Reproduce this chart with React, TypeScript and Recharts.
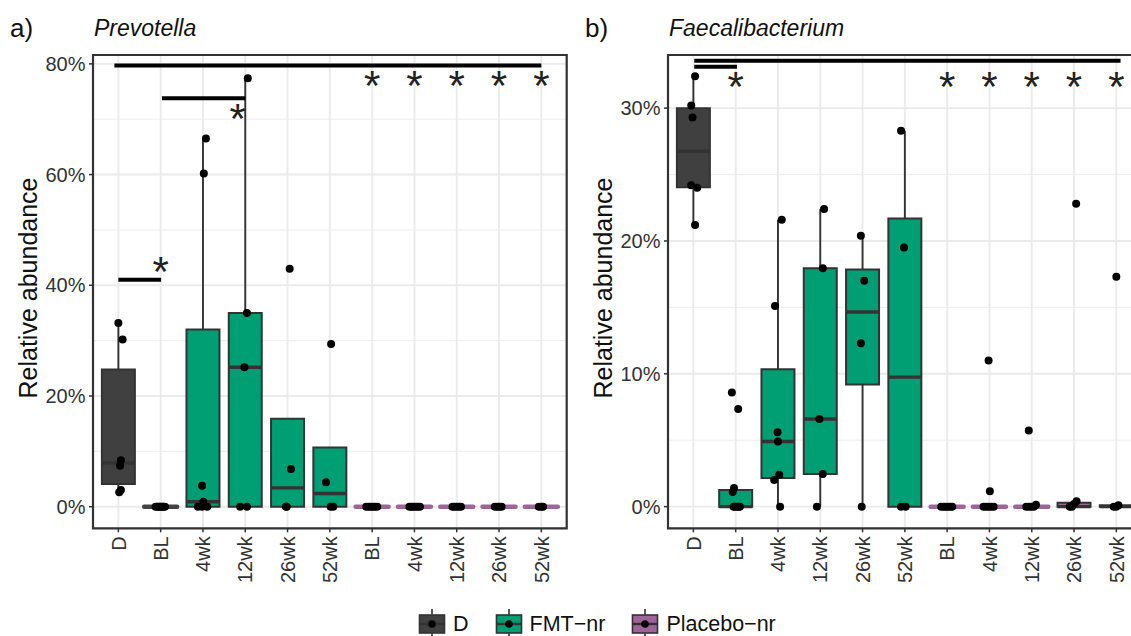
import React from 'react';
import {
  CartesianGrid,
  ComposedChart,
  ReferenceArea,
  ReferenceLine,
  Scatter,
  XAxis,
  YAxis,
} from 'recharts';

const CATEGORIES = ['D', 'BL', '4wk', '12wk', '26wk', '52wk', 'BL', '4wk', '12wk', '26wk', '52wk'];
const GROUPS = ['D', 'FMT−nr', 'FMT−nr', 'FMT−nr', 'FMT−nr', 'FMT−nr',
  'Placebo−nr', 'Placebo−nr', 'Placebo−nr', 'Placebo−nr', 'Placebo−nr'];
const LEGEND_GROUPS = ['D', 'FMT−nr', 'Placebo−nr'];

// Prevotella (%), one entry per category
const PREV_Q1 = [4.1, 0, 0, 0, 0, 0, 0, 0, 0, 0, 0];
const PREV_MEDIAN = [7.9, 0, 0.9, 25.2, 3.4, 2.4, 0, 0, 0, 0, 0];
const PREV_Q3 = [24.8, 0, 32.0, 35.0, 15.9, 10.7, 0, 0, 0, 0, 0];
const PREV_LOW = [2.6, 0, 0, 0, 0, 0, 0, 0, 0, 0, 0];
const PREV_HIGH = [33.2, 0, 66.5, 77.4, 15.9, 10.7, 0, 0, 0, 0, 0];
const PREV_POINTS = [
  [33.2, 30.2, 8.4, 7.4, 3.0, 2.6],
  [0, 0, 0, 0, 0, 0, 0, 0],
  [66.5, 60.2, 3.8, 0.9, 0, 0, 0],
  [77.4, 35.0, 25.2, 0, 0],
  [43.0, 6.8, 0, 0],
  [29.4, 4.4, 0, 0],
  [0, 0, 0, 0, 0, 0],
  [0, 0, 0, 0, 0, 0],
  [0, 0, 0, 0, 0],
  [0, 0, 0, 0],
  [0, 0, 0],
];
const PREV_JITTER = [
  [0, 0.1, 0.06, 0.04, 0.06, 0.02],
  [-0.12, -0.08, -0.05, -0.02, 0.01, 0.04, 0.07, 0.1],
  [0.07, 0.02, -0.02, 0.01, -0.12, -0.02, 0.1],
  [0.06, 0.04, -0.02, -0.12, 0.04],
  [0.05, 0.08, -0.04, -0.02],
  [0.03, -0.09, 0.02, 0.08],
  [-0.14, -0.08, -0.03, 0.02, 0.07, 0.12],
  [-0.12, -0.07, -0.02, 0.03, 0.08, 0.13],
  [-0.1, -0.05, 0, 0.05, 0.1],
  [-0.1, -0.04, 0.01, 0.06],
  [-0.06, 0, 0.04],
];
const PREV_SIG_BARS = [
  { from: 0.905, to: 11, y: 79.7 },
  { from: 2.03, to: 4.0, y: 73.8 },
  { from: 1, to: 2.01, y: 41.0 },
];
const PREV_STARS = [
  { x: 2, y: 43.5 },
  { x: 3.82, y: 71.1 },
  { x: 7, y: 77.1 },
  { x: 8, y: 77.1 },
  { x: 9, y: 77.1 },
  { x: 10, y: 77.1 },
  { x: 11, y: 77.1 },
];

// Faecalibacterium (%)
const FAEC_Q1 = [24.05, 0, 2.15, 2.46, 9.2, 0, 0, 0, 0, 0, 0];
const FAEC_MEDIAN = [26.75, 0, 4.9, 6.6, 14.65, 9.75, 0, 0, 0, 0, 0];
const FAEC_Q3 = [30.0, 1.25, 10.35, 17.95, 17.85, 21.7, 0, 0, 0, 0.3, 0.1];
const FAEC_LOW = [21.2, 0, 0, 0, 0, 0, 0, 0, 0, 0, 0];
const FAEC_HIGH = [32.4, 1.25, 21.6, 22.4, 20.4, 28.3, 0, 0, 0, 0.4, 0.1];
const FAEC_POINTS = [
  [32.4, 30.2, 29.3, 24.2, 24.0, 21.2],
  [8.6, 7.35, 1.4, 1.1, 0, 0, 0, 0, 0],
  [21.6, 15.1, 5.6, 4.9, 2.4, 2.0, 0],
  [22.4, 17.95, 6.6, 2.46, 0],
  [20.4, 17.0, 12.3, 0],
  [28.3, 19.5, 0, 0],
  [0, 0, 0, 0, 0, 0],
  [11.0, 1.15, 0, 0, 0, 0, 0],
  [5.74, 0.15, 0, 0, 0, 0],
  [22.8, 0.4, 0.2, 0, 0],
  [17.3, 0.1, 0, 0],
];
const FAEC_JITTER = [
  [0.04, -0.05, -0.02, -0.05, 0.09, 0.04],
  [-0.09, 0.06, -0.04, -0.07, -0.05, -0.02, 0.03, 0.07, 0.1],
  [0.09, -0.07, -0.01, 0, 0.03, -0.09, 0.05],
  [0.09, 0.06, -0.02, 0.06, -0.08],
  [-0.04, 0.04, -0.04, -0.02],
  [-0.09, -0.02, -0.09, 0.02],
  [-0.14, -0.08, -0.03, 0.02, 0.07, 0.12],
  [-0.02, 0.01, -0.14, -0.08, -0.02, 0.04, 0.1],
  [-0.07, 0.1, -0.13, -0.07, -0.01, 0.05],
  [0.05, 0.06, 0, -0.1, -0.05],
  [0, 0.05, -0.06, 0],
];
const FAEC_SIG_BARS = [
  { from: 1.02, to: 11.1, y: 33.57 },
  { from: 1.02, to: 2.03, y: 33.12 },
];
const FAEC_STARS = [
  { x: 2, y: 32.0 },
  { x: 7, y: 32.0 },
  { x: 8, y: 32.0 },
  { x: 9, y: 32.0 },
  { x: 10, y: 32.0 },
  { x: 11, y: 32.0 },
];

const FILLS: Record<string, string> = {
  'D': '#404040',
  'FMT−nr': '#009e73',
  'Placebo−nr': '#a0639a',
};
const INK = '#333333';
const FONT = '"Liberation Sans", Arial, Helvetica, sans-serif';
const HALF_BOX = 0.39;
const X_DOMAIN: [number, number] = [0.4, 11.6];
const X_TICKS = CATEGORIES.map((_, i) => i + 1);

interface BoxStats {
  q1: number[];
  median: number[];
  q3: number[];
  low: number[];
  high: number[];
}

interface PanelProps {
  left: number;
  letter: string;
  taxon: string;
  stats: BoxStats;
  points: number[][];
  jitter: number[][];
  yDomain: [number, number];
  yTicks: number[];
  yMinor: number[];
  sigBars: { from: number; to: number; y: number }[];
  stars: { x: number; y: number }[];
}

function CategoryTick({ x, y, payload }: any) {
  return (
    <text
      transform={`translate(${x},${y}) rotate(-90)`}
      textAnchor="end"
      dy="0.36em"
      fontSize={20}
      fontFamily={FONT}
      fill="#333"
    >
      {CATEGORIES[payload.value - 1]}
    </text>
  );
}

const dotShape = (props: any) => (
  <circle cx={props.cx} cy={props.cy} r={4} fill="#000" />
);

const starShape = (props: any) => (
  <text
    x={props.cx}
    y={props.cy}
    dy="0.47em"
    textAnchor="middle"
    fontSize={42}
    fontFamily={FONT}
    fill="#222"
  >
    *
  </text>
);

function Panel({
  left, letter, taxon, stats, points, jitter, yDomain, yTicks, yMinor, sigBars, stars,
}: PanelProps) {
  const pointData = points.flatMap((vals, i) =>
    vals.map((v, j) => ({ x: i + 1 + jitter[i][j], y: v })),
  );

  return (
    <div style={{ position: 'absolute', left, top: 0, width: 590, height: 636 }}>
      <div style={{ position: 'absolute', left: 10, top: 13, fontSize: 26, fontFamily: FONT, color: '#111' }}>
        {letter}
      </div>
      <div
        style={{
          position: 'absolute', left: 94, top: 15, fontSize: 23,
          fontFamily: FONT, fontStyle: 'italic', color: '#111',
        }}
      >
        {taxon}
      </div>
      <div
        style={{
          position: 'absolute', left: 28, top: 288, fontSize: 25, fontFamily: FONT,
          color: '#111', whiteSpace: 'nowrap',
          transform: 'translate(-50%, -50%) rotate(-90deg)',
        }}
      >
        Relative abundance
      </div>
      <ComposedChart
        width={590}
        height={636}
        margin={{ top: 55, right: 23.3, bottom: 37.7, left: 21 }}
        style={{ position: 'absolute', left: 0, top: 0 }}
      >
        <CartesianGrid
          stroke="#ebebeb"
          strokeWidth={0.9}
          vertical={false}
          horizontalValues={yMinor}
        />
        <CartesianGrid stroke="#ebebeb" strokeWidth={1.9} />
        <XAxis
          type="number"
          dataKey="x"
          domain={X_DOMAIN}
          ticks={X_TICKS}
          interval={0}
          allowDataOverflow
          axisLine={false}
          tickSize={4}
          tickMargin={4}
          tickLine={{ stroke: INK, strokeWidth: 1.5 }}
          tick={<CategoryTick />}
          height={70}
        />
        <YAxis
          type="number"
          dataKey="y"
          domain={yDomain}
          ticks={yTicks}
          interval={0}
          allowDataOverflow
          axisLine={false}
          tickSize={4}
          tickMargin={3.5}
          tickLine={{ stroke: INK, strokeWidth: 1.5 }}
          tickFormatter={(v: number) => `${v}%`}
          tick={{ fontSize: 20, fontFamily: FONT, fill: '#333' }}
          width={72}
        />

        {CATEGORIES.map((_, i) =>
          stats.q3[i] > stats.q1[i] ? (
            <ReferenceArea
              key={`box-${i}`}
              x1={i + 1 - HALF_BOX}
              x2={i + 1 + HALF_BOX}
              y1={stats.q1[i]}
              y2={stats.q3[i]}
              fill={FILLS[GROUPS[i]]}
              fillOpacity={1}
              stroke={INK}
              strokeWidth={2}
              ifOverflow="visible"
            />
          ) : null,
        )}
        {CATEGORIES.map((_, i) =>
          stats.high[i] > stats.q3[i] ? (
            <ReferenceLine
              key={`wh-${i}`}
              segment={[{ x: i + 1, y: stats.q3[i] }, { x: i + 1, y: stats.high[i] }]}
              stroke={INK}
              strokeWidth={1.9}
              ifOverflow="visible"
            />
          ) : null,
        )}
        {CATEGORIES.map((_, i) =>
          stats.low[i] < stats.q1[i] ? (
            <ReferenceLine
              key={`wl-${i}`}
              segment={[{ x: i + 1, y: stats.low[i] }, { x: i + 1, y: stats.q1[i] }]}
              stroke={INK}
              strokeWidth={1.9}
              ifOverflow="visible"
            />
          ) : null,
        )}
        {CATEGORIES.map((_, i) =>
          stats.q3[i] > stats.q1[i] ? (
            <ReferenceLine
              key={`med-${i}`}
              segment={[
                { x: i + 1 - HALF_BOX, y: stats.median[i] },
                { x: i + 1 + HALF_BOX, y: stats.median[i] },
              ]}
              stroke={INK}
              strokeWidth={3.4}
              ifOverflow="visible"
            />
          ) : (
            <ReferenceLine
              key={`flat-${i}`}
              segment={[
                { x: i + 1 - HALF_BOX, y: stats.median[i] },
                { x: i + 1 + HALF_BOX, y: stats.median[i] },
              ]}
              stroke={GROUPS[i] === 'Placebo−nr' ? FILLS[GROUPS[i]] : '#444'}
              strokeWidth={4.5}
              strokeLinecap="round"
              ifOverflow="visible"
            />
          ),
        )}
        {sigBars.map((b, i) => (
          <ReferenceLine
            key={`sig-${i}`}
            segment={[{ x: b.from, y: b.y }, { x: b.to, y: b.y }]}
            stroke="#000"
            strokeWidth={4}
            ifOverflow="visible"
          />
        ))}
        <Scatter data={pointData} shape={dotShape} isAnimationActive={false} />
        <Scatter data={stars} shape={starShape} isAnimationActive={false} />
        <ReferenceArea
          x1={X_DOMAIN[0]}
          x2={X_DOMAIN[1]}
          y1={yDomain[0]}
          y2={yDomain[1]}
          fill="none"
          stroke={INK}
          strokeWidth={2.2}
          ifOverflow="visible"
        />
      </ComposedChart>
    </div>
  );
}

function LegendKey({ color }: { color: string }) {
  return (
    <svg width={28} height={30} style={{ display: 'block' }}>
      <line x1={14} y1={0} x2={14} y2={30} stroke={INK} strokeWidth={1.6} />
      <rect x={1.5} y={6} width={25} height={18} fill={color} stroke={INK} strokeWidth={1.6} />
      <line x1={1.5} y1={15} x2={26.5} y2={15} stroke={INK} strokeWidth={2.4} />
      <circle cx={14} cy={15} r={3.8} fill="#000" />
    </svg>
  );
}

export default function App() {
  return (
    <div
      style={{
        position: 'absolute', left: 0, top: 0, width: 1131, height: 636,
        overflow: 'hidden', background: '#fff',
      }}
    >
      <Panel
        left={0}
        letter="a)"
        taxon="Prevotella"
        stats={{ q1: PREV_Q1, median: PREV_MEDIAN, q3: PREV_Q3, low: PREV_LOW, high: PREV_HIGH }}
        points={PREV_POINTS}
        jitter={PREV_JITTER}
        yDomain={[-3.9, 81.6]}
        yTicks={[0, 20, 40, 60, 80]}
        yMinor={[10, 30, 50, 70]}
        sigBars={PREV_SIG_BARS}
        stars={PREV_STARS}
      />
      <Panel
        left={575}
        letter="b)"
        taxon="Faecalibacterium"
        stats={{ q1: FAEC_Q1, median: FAEC_MEDIAN, q3: FAEC_Q3, low: FAEC_LOW, high: FAEC_HIGH }}
        points={FAEC_POINTS}
        jitter={FAEC_JITTER}
        yDomain={[-1.63, 34.0]}
        yTicks={[0, 10, 20, 30]}
        yMinor={[5, 15, 25]}
        sigBars={FAEC_SIG_BARS}
        stars={FAEC_STARS}
      />
      <div
        style={{
          position: 'absolute', left: 418, top: 609, display: 'flex', alignItems: 'center',
          fontFamily: FONT, fontSize: 21.5, color: '#111',
        }}
      >
        {LEGEND_GROUPS.map((g) => (
          <div key={g} style={{ display: 'flex', alignItems: 'center', marginRight: 26 }}>
            <LegendKey color={FILLS[g]} />
            <span style={{ marginLeft: 7 }}>{g}</span>
          </div>
        ))}
      </div>
    </div>
  );
}
